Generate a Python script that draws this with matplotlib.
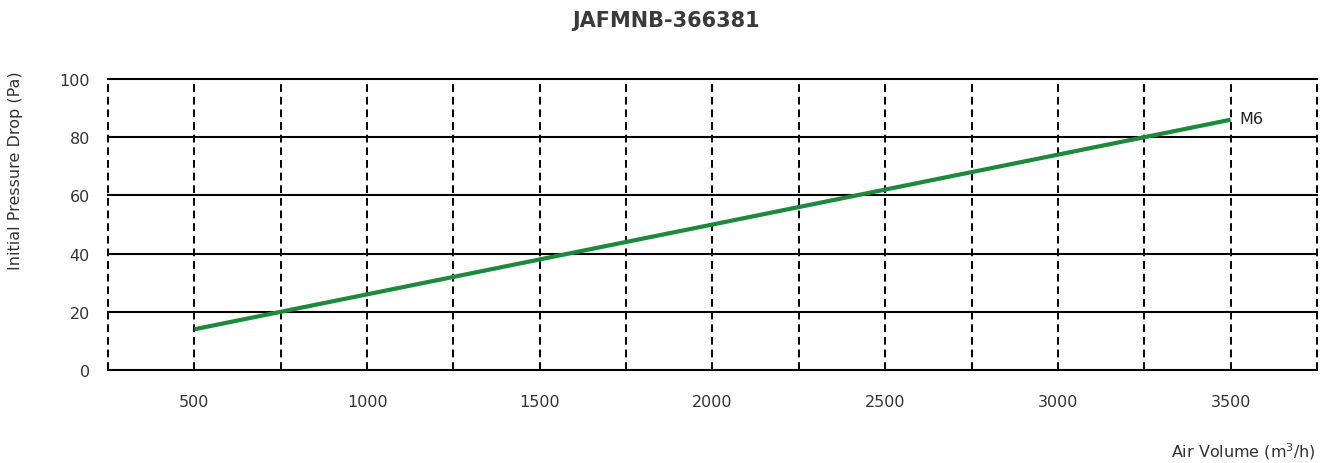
import matplotlib
matplotlib.use("Agg")
import matplotlib.pyplot as plt

plt.rcParams['font.family'] = ['DejaVu Sans']
plt.rcParams['mathtext.default'] = 'regular'

# data
air_volume = [500, 1000, 1500, 2000, 2500, 3000, 3500]
pressure_m6 = [14, 26, 38, 50, 62, 74, 86]
series_name = "M6"
title = "JAFMNB-366381"

x_ticks = [500, 1000, 1500, 2000, 2500, 3000, 3500]
x_grid = [250, 750, 1250, 1750, 2250, 2750, 3250, 3750]
y_ticks = [0, 20, 40, 60, 80, 100]

fig = plt.figure(figsize=(13.32, 4.64), dpi=100)
ax = fig.add_axes([0.0811, 0.2004, 0.9076, 0.6272])

ax.set_xlim(250, 3750)
ax.set_ylim(0, 100)

# horizontal solid grid
for y in y_ticks[1:]:
    ax.axhline(y, color='black', lw=1.5, zorder=1, clip_on=False)
# vertical dashed grid
for x in x_ticks + x_grid:
    ax.axvline(x, color='black', lw=1.4, ls=(0, (4, 2.5)), zorder=1, clip_on=False)

ax.plot(air_volume, pressure_m6, color='#1b8a3a', lw=3, zorder=3, solid_capstyle='butt')
ax.text(air_volume[-1] + 25, pressure_m6[-1] + 0.5, series_name, fontsize=11.5,
        color='#222222', va='center', ha='left')

for s in ['left', 'right', 'top']:
    ax.spines[s].set_visible(False)
ax.spines['bottom'].set_linewidth(1.5)

ax.set_xticks(x_ticks)
ax.set_yticks(y_ticks)
ax.tick_params(length=0, labelsize=11.5, labelcolor='#333333')
ax.tick_params(axis='x', pad=17)
ax.tick_params(axis='y', pad=13)

fig.text(0.5, 0.955, title, ha='center', va='center', fontsize=15,
         fontweight='bold', color='#3a3a3a')
fig.text(0.988, 0.013, "Air Volume (m$^3$/h)", ha='right', va='baseline',
         fontsize=11.5, color='#333333')
fig.text(0.006, 0.847, "Initial Pressure Drop (Pa)", rotation=90, ha='left',
         va='top', fontsize=11.5, color='#333333')

fig.savefig("out.png", dpi=100)
